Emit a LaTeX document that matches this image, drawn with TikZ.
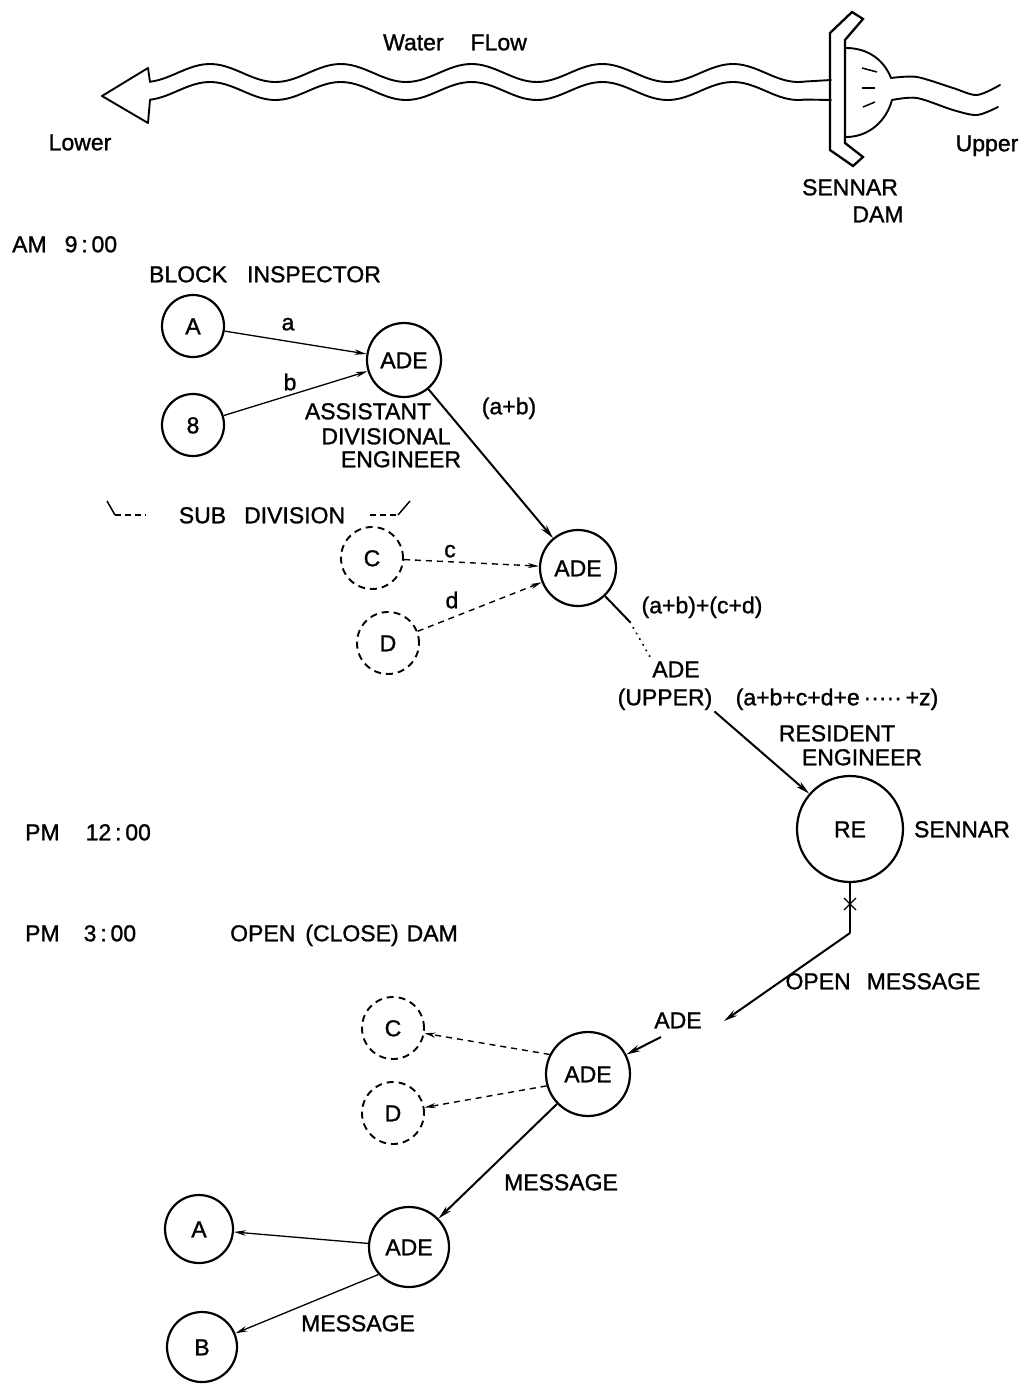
\documentclass[tikz,border=0pt]{standalone}
\usepackage{fontspec}
\setmainfont{Liberation Sans}[FakeBold=1.2]
\usetikzlibrary{arrows.meta,calc}
\begin{document}
\begin{tikzpicture}[x=1pt,y=-1pt,
  every node/.style={font=\fontsize{23}{26}\selectfont},
  lbl/.style={inner sep=0pt, text height=16.5pt, text depth=0pt},
  llbl/.style={lbl, anchor=west},
  pers/.style={circle, draw, line width=2.2pt, inner sep=0pt, text height=16.5pt, text depth=0pt},
  dpers/.style={pers, dash pattern=on 7pt off 5pt, line width=1.9pt},
  arr/.style={-{Stealth[length=14pt,width=6.5pt]}, line width=2pt},
  thinarr/.style={-{Stealth[length=12pt,width=5.5pt]}, line width=1.3pt},
  darr/.style={dash pattern=on 6pt off 5pt, line width=1.4pt, -{Stealth[length=11pt,width=5pt]}},
  river/.style={line width=1.9pt, line cap=round, line join=round}
]
\useasboundingbox (0,0) rectangle (1030,1387);

% ---------------- river and dam ----------------
\draw[river] plot[domain=150:805, samples=160, smooth] (\x, {73 - 9*cos(2.75335*(\x-210))}) -- (831,80);
\draw[river] plot[domain=150:805, samples=160, smooth] (\x, {91 - 9*cos(2.75335*(\x-210))}) -- (831,100);
\draw[river] (150,82) -- (148,68) -- (102,96) -- (148,123) -- (150,100);
\draw[river] plot[smooth] coordinates {(891,78) (917,77) (953,88) (977,95) (1000,85)};
\draw[river] plot[smooth] coordinates {(892,100) (917,98) (953,110) (977,115) (998,107)};
\draw[line width=2.3pt, line join=miter] (852,12) -- (863,19) -- (845,40) -- (845,143) -- (863,157) -- (853,166) -- (830,150) -- (830,33) -- cycle;
\draw[river] (846,48) .. controls (868,48) and (884,60) .. (891,78);
\draw[river] (892,100) .. controls (886,122) and (868,137) .. (846,137);
\draw[line width=1.5pt] (862,68) -- (877,72);
\draw[line width=1.5pt] (862,88) -- (875,88);
\draw[line width=1.5pt] (863,107) -- (875,102);

\node[lbl] (tflow) at (455,42) {Water\hspace{27pt}FLow};
\node[lbl] (tlower) at (80,142) {Lower};
\node[lbl] (tupper) at (987,143) {Upper};
\node[lbl] (tsennar) at (850,187) {SENNAR};
\node[lbl] (tdam) at (878,214) {DAM};

% ---------------- morning ----------------
\node[llbl] (tam) at (12,244) {AM\hspace{18pt}9\,:\,00};
\node[lbl] (tblock) at (265,274) {BLOCK\hspace{20pt}INSPECTOR};

\node[pers, minimum size=62pt] (nA) at (193,326) {A};
\node[pers, minimum size=62pt] (nB) at (193,425) {8};
\node[pers, minimum size=74pt] (ADEa) at (404,360) {ADE};
\node[lbl] (ta) at (288,322) {a};
\node[lbl] (tb) at (290,382) {b};
\node[lbl] (tass) at (368,411) {ASSISTANT};
\node[lbl] (tdiv) at (386,436) {DIVISIONAL};
\node[lbl] (teng) at (401,459) {ENGINEER};
\node[lbl] (tab) at (509,406) {(a+b)};

\node[lbl] (tsub) at (262,515) {SUB\hspace{18pt}DIVISION};
\draw[line width=1.5pt] (107,501) -- (115,515);
\draw[line width=1.5pt, dash pattern=on 6pt off 4pt] (115,515) -- (146,515);
\draw[line width=1.5pt, dash pattern=on 6pt off 4pt] (370,515) -- (398,515);
\draw[line width=1.5pt] (398,515) -- (410,501);

\node[dpers, minimum size=62pt] (Cd) at (372,558) {C};
\node[dpers, minimum size=62pt] (Dd) at (388,643) {D};
\node[pers, minimum size=76pt] (ADEb) at (578,568) {ADE};
\node[lbl] (tc) at (450,549) {c};
\node[lbl] (td) at (452,600) {d};
\node[lbl] (tabcd) at (702,605) {(a+b)+(c+d)};

\node[lbl] (tADEup) at (676,669) {ADE};
\node[lbl] (tUPPER) at (665,697) {(UPPER)};
\node[lbl] (tsum) at (837,697) {(a+b+c+d+e\,·····\,+z)};
\node[lbl] (tres) at (837,733) {RESIDENT};
\node[lbl] (tresE) at (862,757) {ENGINEER};
\node[pers, minimum size=106pt] (RE) at (850,829) {RE};
\node[lbl] (tsen2) at (962,829) {SENNAR};

\draw[thinarr] (nA) -- (ADEa);
\draw[thinarr] (nB) -- (ADEa);
\draw[arr] (ADEa) -- (ADEb);
\draw[darr] (Cd) -- (ADEb);
\draw[darr] (Dd) -- (ADEb);
\coordinate (dotA) at (630,622);
\draw[line width=2pt] (ADEb) -- (dotA);
\draw[line width=1.9pt, line cap=round, dash pattern=on 0.5pt off 6pt, shorten >=2pt] (dotA) -- (tADEup.north west);
\draw[arr] ([xshift=2pt,yshift=-6pt]tUPPER.south east) -- (RE);

% ---------------- noon / afternoon ----------------
\node[llbl] (tpm12) at (25,832) {PM\hspace{26pt}12\,:\,00};
\node[llbl] (tpm3) at (25,933) {PM\hspace{24pt}3\,:\,00};
\node[llbl] (topen) at (230,933) {OPEN\hspace{10pt}(CLOSE)\hspace{8pt}DAM};
\node[lbl] (topenmsg) at (883,981) {OPEN\hspace{16pt}MESSAGE};
\node[lbl] (tADEc) at (678,1020) {ADE};

\coordinate (bend) at (850,933);
\coordinate (tipADE) at (724,1021);
\draw[line width=2.5pt] (RE.south) -- (bend);
\draw[arr] (bend) -- (tipADE);
\draw[line width=1.3pt] (844,898) -- (856,910);
\draw[line width=1.3pt] (844,910) -- (856,898);

\node[pers, minimum size=84pt] (ADEc) at (588,1074) {ADE};
\node[dpers, minimum size=62pt] (Cb) at (393,1028) {C};
\node[dpers, minimum size=62pt] (Db) at (393,1113) {D};
\coordinate (shortstart) at (661,1037);
\draw[arr] (shortstart) -- (ADEc);
\draw[darr] (ADEc.153) -- (Cb);
\draw[darr] (ADEc.196) -- (Db);

\node[lbl] (tmsg1) at (561,1182) {MESSAGE};
\node[pers, minimum size=80pt] (ADEd) at (409,1247) {ADE};
\node[pers, minimum size=68pt] (Ab) at (199,1229) {A};
\node[pers, minimum size=70pt] (Bb) at (202,1347) {B};
\node[lbl] (tmsg2) at (358,1323) {MESSAGE};
\draw[arr] (ADEc) -- (ADEd);
\draw[thinarr] (ADEd.175) -- (Ab);
\draw[thinarr] (ADEd.222) -- (Bb);
\end{tikzpicture}
\end{document}
